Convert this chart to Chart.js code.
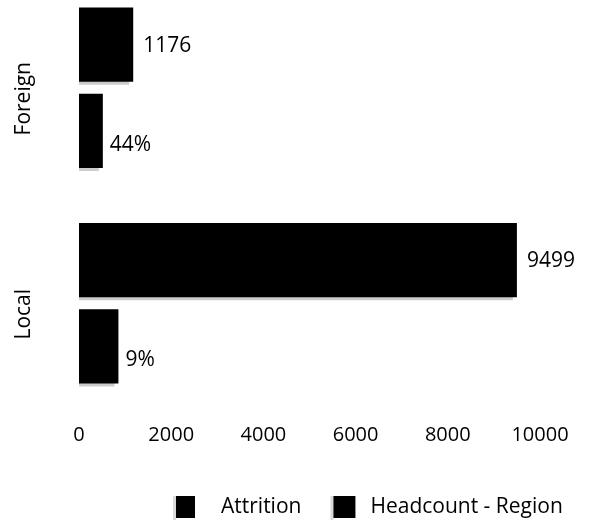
<!DOCTYPE html>
<html>
<head>
<meta charset="utf-8">
<script src="https://cdn.jsdelivr.net/npm/chart.js@4/dist/chart.umd.min.js"></script>
<style>
  html, body { margin: 0; padding: 0; background: #fff; }
  canvas { display: block; }
</style>
</head>
<body>
<canvas id="chart" width="591" height="522"></canvas>
<script>
// Regions and their figures
const regions = ['Foreign', 'Local'];
const headcount = [1176, 9499];
const attrition = [517, 855];        // leavers per region
const attritionPct = [44, 9];        // attrition rate shown beside each leavers bar
const xTicks = [0, 2000, 4000, 6000, 8000, 10000];
const seriesNames = { attrition: 'Attrition', headcount: 'Headcount - Region' };

// the region axis is numeric (0 = first region) so its extent can be set freely
const toPoints = values => values.map((v, i) => ({ x: v, y: i }));

const FONT = "'Open Sans', sans-serif";
Chart.defaults.font.family = FONT;
Chart.defaults.color = '#000';

// soft grey offset behind the bars
const barShadow = {
  id: 'barShadow',
  beforeDatasetsDraw(chart) {
    const c = chart.ctx;
    c.save();
    c.shadowColor = 'rgba(0,0,0,0.2)';
    c.shadowOffsetX = -4;
    c.shadowOffsetY = 3;
    c.shadowBlur = 0;
  },
  afterDatasetsDraw(chart) {
    chart.ctx.restore();
  }
};

// value labels at the end of each bar
const valueLabels = {
  id: 'valueLabels',
  afterDatasetsDraw(chart) {
    const ctx = chart.ctx;
    ctx.save();
    ctx.fillStyle = '#000';
    ctx.textAlign = 'left';
    ctx.textBaseline = 'middle';
    ctx.font = `21px ${FONT}`;
    chart.getDatasetMeta(0).data.forEach((bar, i) => {
      ctx.fillText(String(headcount[i]), bar.x + 10, bar.y + 1);
    });
    chart.getDatasetMeta(1).data.forEach((bar, i) => {
      ctx.fillText(attritionPct[i] + '%', bar.x + 7, bar.y + 14);
    });
    ctx.restore();
  }
};

// rotated region names on the left
const regionLabels = {
  id: 'regionLabels',
  afterDraw(chart) {
    const ctx = chart.ctx;
    const yScale = chart.scales.y;
    ctx.save();
    ctx.fillStyle = '#000';
    ctx.font = `21px ${FONT}`;
    ctx.textAlign = 'center';
    ctx.textBaseline = 'middle';
    regions.forEach((name, i) => {
      const y = yScale.getPixelForValue(i);
      ctx.save();
      ctx.translate(24, y + 11);
      ctx.rotate(-Math.PI / 2);
      ctx.fillText(name, 0, 0);
      ctx.restore();
    });
    ctx.restore();
  }
};

// legend row under the axis
const bottomLegend = {
  id: 'bottomLegend',
  afterDraw(chart) {
    const ctx = chart.ctx;
    const ds = chart.data.datasets;
    const entries = [
      { ds: ds[1], box: 19, gap: 26, after: 32 },
      { ds: ds[0], box: 22, gap: 15, after: 0 }
    ];
    const yMid = 507;
    let x = 176;
    ctx.save();
    ctx.font = `21px ${FONT}`;
    ctx.textAlign = 'left';
    ctx.textBaseline = 'middle';
    entries.forEach(e => {
      ctx.fillStyle = 'rgba(0,0,0,0.15)';
      ctx.fillRect(x - 3, yMid - 11, 3, 24);
      ctx.fillStyle = e.ds.backgroundColor;
      ctx.fillRect(x, yMid - 11, e.box, 22);
      x += e.box + e.gap;
      ctx.fillStyle = '#000';
      ctx.fillText(e.ds.label, x, yMid);
      x += ctx.measureText(e.ds.label).width + e.after;
    });
    ctx.restore();
  }
};

new Chart(document.getElementById('chart'), {
  type: 'bar',
  data: {
    datasets: [
      {
        label: seriesNames.headcount,
        data: toPoints(headcount),
        backgroundColor: '#000',
        categoryPercentage: 0.8,
        barPercentage: 0.86
      },
      {
        label: seriesNames.attrition,
        data: toPoints(attrition),
        backgroundColor: '#000',
        categoryPercentage: 0.8,
        barPercentage: 0.86
      }
    ]
  },
  options: {
    indexAxis: 'y',
    responsive: false,
    animation: false,
    layout: { padding: 0 },
    scales: {
      x: {
        type: 'linear',
        position: 'bottom',
        min: 0,
        max: 10000,
        grid: { display: false, drawTicks: false },
        border: { display: false },
        afterBuildTicks(scale) {
          scale.ticks = xTicks.map(v => ({ value: v }));
        },
        ticks: {
          padding: 12,
          autoSkip: false,
          maxRotation: 0,
          color: '#000',
          font: { size: 20 },
          callback: v => String(v)
        },
        afterFit(scale) { scale.height = 111; }
      },
      y: {
        type: 'linear',
        position: 'left',
        reverse: true,
        offset: false,
        min: -0.407,
        max: 1.5,
        grid: { display: false, drawTicks: false, offset: false },
        border: { display: false },
        afterBuildTicks(scale) {
          scale.ticks = regions.map((r, i) => ({ value: i }));
        },
        ticks: { display: false },
        afterFit(scale) { scale.width = 79; }
      },
      yRight: {
        type: 'linear',
        position: 'right',
        grid: { display: false, drawTicks: false },
        border: { display: false },
        ticks: { display: false },
        afterFit(scale) { scale.width = 51; }
      }
    },
    plugins: {
      legend: { display: false },
      tooltip: { enabled: false }
    }
  },
  plugins: [barShadow, valueLabels, regionLabels, bottomLegend]
});
</script>
</body>
</html>
